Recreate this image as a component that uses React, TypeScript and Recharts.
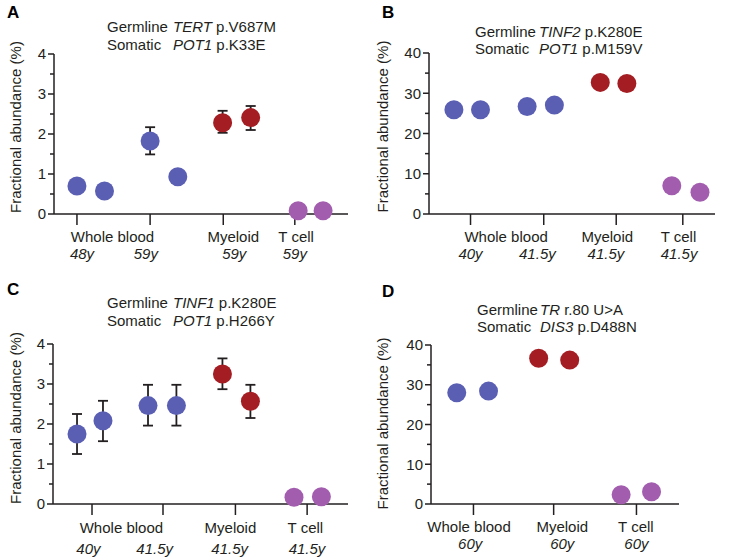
import { ScatterChart, Scatter, XAxis, YAxis, ErrorBar } from "recharts";

const FONT = '"Liberation Sans", Arial, Helvetica, sans-serif';
const INK = "#231f20";
const GROUP_COLORS: Record<string, string> = {
  wb: "#5a5fb3",
  my: "#a31d22",
  tc: "#a35daf",
};
const DOT_R = 9.5;

const NAMES3 = ["Whole blood", "Myeloid", "T cell"];

// Panel A
const aPos = [0, 0.378, 1.004, 1.384, 1.999, 2.384, 3.036, 3.378];
const aVal = [0.7, 0.575, 1.825, 0.93, 2.28, 2.41, 0.08, 0.08];
const aLow = [null, null, 1.49, null, 2.03, 2.1, null, null];
const aHigh = [null, null, 2.17, null, 2.58, 2.7, null, null];
const aGroup = ["wb", "wb", "wb", "wb", "my", "my", "tc", "tc"];
const aXTicks = [0, 1.004, 2.008, 2.99];
const aNamePos = [0.488, 2.145, 3.008];
const aAgePos = [0.069, 0.945, 2.159, 2.99];
const aAges = ["48y", "59y", "59y", "59y"];
const aYTicks = [0, 0.5, 1, 1.5, 2, 2.5, 3, 3.5, 4];

// Panel B
const bPos = [-0.228, 0.137, 0.777, 1.151, 1.781, 2.146, 2.763, 3.15];
const bVal = [25.9, 25.9, 26.7, 27.05, 32.7, 32.4, 7.0, 5.4];
const bGroup = ["wb", "wb", "wb", "wb", "my", "my", "tc", "tc"];
const bXTicks = [0, 1.005, 2.0, 2.914];
const bNamePos = [0.489, 1.877, 2.855];
const bAgePos = [0, 0.918, 1.859, 2.863];
const bAges = ["40y", "41.5y", "41.5y", "41.5y"];
const bYTicks = [0, 5, 10, 15, 20, 25, 30, 35, 40];

// Panel C
const cPos = [-0.209, 0.153, 0.781, 1.177, 1.819, 2.209, 2.817, 3.199];
const cVal = [1.75, 2.08, 2.46, 2.46, 3.25, 2.57, 0.17, 0.18];
const cLow = [1.25, 1.57, 1.96, 1.96, 2.87, 2.15, null, null];
const cHigh = [2.25, 2.58, 2.98, 2.98, 3.64, 2.98, null, null];
const cGroup = ["wb", "wb", "wb", "wb", "my", "my", "tc", "tc"];
const cXTicks = [0, 0.99, 2.0, 3.0];
const cNamePos = [0.41, 1.93, 2.976];
const cAgePos = [-0.05, 0.874, 1.92, 2.998];
const cAges = ["40y", "41.5y", "41.5y", "41.5y"];

// Panel D
const dPos = [-0.205, 0.185, 0.8, 1.181, 1.812, 2.185];
const dVal = [28.0, 28.4, 36.65, 36.2, 2.35, 3.1];
const dGroup = ["wb", "wb", "my", "my", "tc", "tc"];
const dXTicks = [0, 0.984, 2.0];
const dNamePos = [-0.054, 1.09, 1.993];
const dAgePos = [-0.04, 1.09, 2.0];
const dAges = ["60y", "60y", "60y"];

type Layout = {
  w: number;
  h: number;
  margin: { top: number; right: number; bottom: number; left: number };
  labelShift: number;
  titleX: number;
  geneX: number;
  titleY: [number, number];
  letterX: number;
  letterY: number;
  nameDy: number;
  ageDy: number;
};

type PanelProps = {
  letter: string;
  pos: number[];
  val: number[];
  low?: (number | null)[];
  high?: (number | null)[];
  group: string[];
  xDomain: [number, number];
  xTicks: number[];
  namePos: number[];
  agePos: number[];
  ages: string[];
  yTicks: number[];
  yMajor: number;
  germ: [string, string];
  som: [string, string];
  layout: Layout;
};

const Nothing = () => <g />;

function Panel(p: PanelProps) {
  const L = p.layout;
  const rows = p.pos.map((x, i) => {
    const lo = p.low ? p.low[i] : null;
    const hi = p.high ? p.high[i] : null;
    return {
      x,
      y: p.val[i],
      err: lo == null || hi == null ? undefined : [p.val[i] - lo, hi - p.val[i]],
      group: p.group[i],
    };
  });
  // anchor rows so that the label axes get a domain of their own
  const nameRows = p.namePos.map((x) => ({ x, y: 0 }));
  const ageRows = p.agePos.map((x) => ({ x, y: 0 }));
  const yMax = p.yTicks[p.yTicks.length - 1];

  const yTick = (t: any) => {
    const v = t.payload.value;
    const isMajor = Math.abs(v / p.yMajor - Math.round(v / p.yMajor)) < 1e-6;
    const len = isMajor ? 6 : 4;
    return (
      <g>
        <line x1={t.x - len} x2={t.x} y1={t.y} y2={t.y} stroke={INK} strokeWidth={1.5} />
        {isMajor && (
          <text
            x={t.x - len - 2}
            y={t.y}
            dy="0.36em"
            textAnchor="end"
            fontSize={15}
            fontFamily={FONT}
            fill={INK}
          >
            {v}
          </text>
        )}
      </g>
    );
  };

  const textTick = (labels: string[], positions: number[], dy: number, italic: boolean) => (t: any) => {
    let i = positions.indexOf(t.payload.value);
    if (i < 0) i = t.index;
    return (
      <text
        x={t.x}
        y={t.y + dy}
        textAnchor="middle"
        fontSize={15}
        fontFamily={FONT}
        fontStyle={italic ? "italic" : "normal"}
        fill={INK}
      >
        {labels[i]}
      </text>
    );
  };

  return (
    <div style={{ position: "relative", width: L.w, height: L.h }}>
      <ScatterChart width={L.w} height={L.h} margin={L.margin}>
        <XAxis
          type="number"
          dataKey="x"
          domain={p.xDomain}
          ticks={p.xTicks}
          interval={0}
          height={10}
          tickSize={11}
          tick={Nothing}
          axisLine={{ stroke: INK, strokeWidth: 1.5 }}
          tickLine={{ stroke: INK, strokeWidth: 1.5 }}
        />
        <XAxis
          xAxisId="lbl2"
          type="number"
          dataKey="x"
          domain={p.xDomain}
          allowDataOverflow
          ticks={p.agePos}
          interval={0}
          height={20}
          tickSize={0}
          tickMargin={0}
          axisLine={false}
          tickLine={false}
          tick={textTick(p.ages, p.agePos, L.ageDy, true)}
        />
        <XAxis
          xAxisId="lbl1"
          type="number"
          dataKey="x"
          domain={p.xDomain}
          allowDataOverflow
          ticks={p.namePos}
          interval={0}
          height={18}
          tickSize={0}
          tickMargin={0}
          axisLine={false}
          tickLine={false}
          tick={textTick(NAMES3, p.namePos, L.nameDy, false)}
        />
        <YAxis
          type="number"
          dataKey="y"
          domain={[0, yMax]}
          ticks={p.yTicks}
          interval={0}
          width={40}
          tickSize={0}
          tickMargin={0}
          tickLine={false}
          axisLine={{ stroke: INK, strokeWidth: 1.5 }}
          tick={yTick}
          label={(lp: any) => {
            const vb = lp.viewBox || {};
            const cy = vb.y + vb.height / 2 + L.labelShift;
            return (
              <text
                transform={`translate(15, ${cy}) rotate(-90)`}
                textAnchor="middle"
                dominantBaseline="central"
                fontSize={15}
                fontFamily={FONT}
                fill={INK}
              >
                Fractional abundance (%)
              </text>
            );
          }}
        />
        <Scatter xAxisId="lbl1" data={nameRows} isAnimationActive={false} shape={Nothing} />
        <Scatter xAxisId="lbl2" data={ageRows} isAnimationActive={false} shape={Nothing} />
        <Scatter
          data={rows}
          isAnimationActive={false}
          shape={(s: any) => (
            <circle cx={s.cx} cy={s.cy} r={DOT_R} fill={GROUP_COLORS[s.payload.group]} />
          )}
        >
          <ErrorBar
            dataKey="err"
            direction="y"
            width={5}
            stroke={INK}
            strokeWidth={1.8}
            isAnimationActive={false}
          />
        </Scatter>
      </ScatterChart>
      <svg
        width={L.w}
        height={L.h}
        style={{ position: "absolute", left: 0, top: 0, pointerEvents: "none" }}
      >
        <text x={L.letterX} y={L.letterY} fontSize={17} fontWeight={700} fontFamily={FONT} fill="#000">
          {p.letter}
        </text>
        <text y={L.titleY[0]} fontSize={15} fontFamily={FONT} fill={INK}>
          <tspan x={L.titleX}>Germline</tspan>
          <tspan x={L.geneX} fontStyle="italic">{p.germ[0]}</tspan>
          <tspan> {p.germ[1]}</tspan>
        </text>
        <text y={L.titleY[1]} fontSize={15} fontFamily={FONT} fill={INK}>
          <tspan x={L.titleX}>Somatic</tspan>
          <tspan x={L.geneX} fontStyle="italic">{p.som[0]}</tspan>
          <tspan> {p.som[1]}</tspan>
        </text>
      </svg>
    </div>
  );
}

export default function App() {
  return (
    <div
      style={{
        position: "absolute",
        left: 0,
        top: 0,
        width: 734,
        height: 559,
        background: "#fff",
        fontFamily: FONT,
      }}
    >
      <div style={{ position: "absolute", left: 0, top: 0 }}>
        <Panel
          letter="A"
          pos={aPos}
          val={aVal}
          low={aLow}
          high={aHigh}
          group={aGroup}
          xDomain={[-0.315, 3.72]}
          xTicks={aXTicks}
          namePos={aNamePos}
          agePos={aAgePos}
          ages={aAges}
          yTicks={aYTicks}
          yMajor={1}
          germ={["TERT", "p.V687M"]}
          som={["POT1", "p.K33E"]}
          layout={{
            w: 367,
            h: 280,
            margin: { top: 54, right: 19, bottom: 18, left: 14 },
            labelShift: -7,
            titleX: 107,
            geneX: 173,
            titleY: [32.3, 50],
            letterX: 7,
            letterY: 18.3,
            nameDy: 18,
            ageDy: 17,
          }}
        />
      </div>
      <div style={{ position: "absolute", left: 367, top: 0 }}>
        <Panel
          letter="B"
          pos={bPos}
          val={bVal}
          group={bGroup}
          xDomain={[-0.57, 3.356]}
          xTicks={bXTicks}
          namePos={bNamePos}
          agePos={bAgePos}
          ages={bAges}
          yTicks={bYTicks}
          yMajor={10}
          germ={["TINF2", "p.K280E"]}
          som={["POT1", "p.M159V"]}
          layout={{
            w: 367,
            h: 280,
            margin: { top: 53, right: 19, bottom: 18, left: 22 },
            labelShift: -7,
            titleX: 108,
            geneX: 172,
            titleY: [36.7, 54],
            letterX: 15,
            letterY: 18.3,
            nameDy: 18,
            ageDy: 17,
          }}
        />
      </div>
      <div style={{ position: "absolute", left: 0, top: 280 }}>
        <Panel
          letter="C"
          pos={cPos}
          val={cVal}
          low={cLow}
          high={cHigh}
          group={cGroup}
          xDomain={[-0.544, 3.57]}
          xTicks={cXTicks}
          namePos={cNamePos}
          agePos={cAgePos}
          ages={cAges}
          yTicks={aYTicks}
          yMajor={1}
          germ={["TINF1", "p.K280E"]}
          som={["POT1", "p.H266Y"]}
          layout={{
            w: 367,
            h: 279,
            margin: { top: 64, right: 19, bottom: 7, left: 13 },
            labelShift: -6,
            titleX: 107,
            geneX: 173,
            titleY: [28.3, 45.7],
            letterX: 7,
            letterY: 15,
            nameDy: 19,
            ageDy: 22,
          }}
        />
      </div>
      <div style={{ position: "absolute", left: 367, top: 280 }}>
        <Panel
          letter="D"
          pos={dPos}
          val={dVal}
          group={dGroup}
          xDomain={[-0.521, 2.522]}
          xTicks={dXTicks}
          namePos={dNamePos}
          agePos={dAgePos}
          ages={dAges}
          yTicks={bYTicks}
          yMajor={10}
          germ={["TR", "r.80 U>A"]}
          som={["DIS3", "p.D488N"]}
          layout={{
            w: 367,
            h: 279,
            margin: { top: 65, right: 55, bottom: 7, left: 24 },
            labelShift: -1,
            titleX: 110,
            geneX: 173,
            titleY: [35, 52.3],
            letterX: 15,
            letterY: 17.3,
            nameDy: 18,
            ageDy: 17,
          }}
        />
      </div>
    </div>
  );
}
